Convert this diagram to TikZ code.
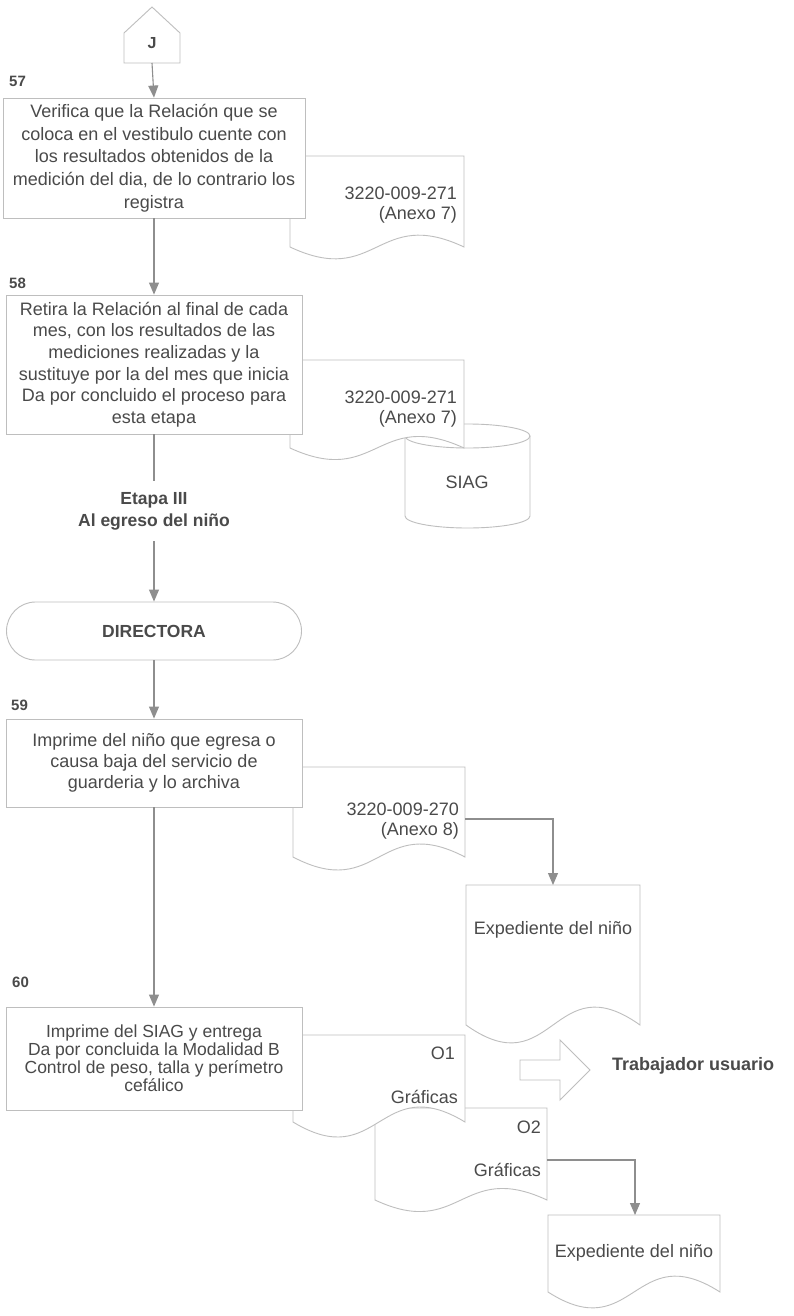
\documentclass[tikz,border=0pt]{standalone}
\usepackage{fontspec}
\setmainfont{Liberation Sans}
\usetikzlibrary{arrows.meta}

\definecolor{ink}{HTML}{4A4A4A}
\definecolor{wire}{HTML}{8E8E8E}
\definecolor{frame}{HTML}{BEBEBE}

\tikzset{
  stepbox/.style={draw=frame, line width=0.9pt, fill=white, inner sep=0pt,
    align=center, text=ink},
  stepnum/.style={font=\bfseries\fontsize{15}{18}\selectfont, text=ink,
    anchor=west, inner sep=0pt},
  flow/.style={draw=wire, line width=1.1pt, -{Triangle[width=10pt,length=12pt]}},
  plainline/.style={draw=wire, line width=1.1pt},
  doclabel/.style={anchor=east, align=right, inner sep=0pt, text=ink,
    font=\fontsize{18}{20}\selectfont},
  doctext/.style={inner sep=0pt, text=ink, font=\fontsize{18}{20}\selectfont},
  sheet/.style={draw=frame, line width=0.9pt, fill=white},
  heading/.style={font=\bfseries\fontsize{17.5}{22}\selectfont, text=ink,
    align=center, inner sep=0pt},
}

% document sheet: [wave depth] left, top, right, bottom
\newcommand{\docsheet}[5][41]{%
  \path[sheet] (#2,#5) -- (#2,#3) -- (#4,#3) -- (#4,#5)
    .. controls ({(#2+#4)/2},{#5-#1}) and ({(#2+#4)/2},{#5+#1}) .. (#2,#5) -- cycle;}

\begin{document}
\begin{tikzpicture}[x=1pt,y=-1pt]
\useasboundingbox[fill=white] (0,0) rectangle (793,1316);

% off-page connector J
\path[sheet] (124,63) -- (124,33) -- (152,7) -- (180,33) -- (180,63) -- cycle;
\node[font=\bfseries\fontsize{16}{18}\selectfont, text=ink, inner sep=0pt] (J) at (152,43) {J};
\coordinate (Jb) at (152,63);

% step 57 with its record
\docsheet{290}{156}{464}{247}
\node[doclabel] (d57) at (457,205) {3220-009-271\\(Anexo 7)};
\node[stepnum] (n57) at (9,81) {57};
\node[stepbox, minimum width=302pt, minimum height=120pt,
  font=\fontsize{18}{22.75}\selectfont] (b57) at (154,158)
  {Verifica que la Relación que se\\coloca en el vestibulo cuente con\\los resultados obtenidos de la\\medición del dia, de lo contrario los\\registra};

% step 58 with its record and the SIAG store
\path[sheet] (405,436) -- (405,516)
  arc[start angle=180, end angle=360, x radius=62.5pt, y radius=12pt]
  -- (530,436)
  arc[start angle=0, end angle=180, x radius=62.5pt, y radius=12pt] -- cycle;
\draw[draw=frame, line width=0.9pt] (405,436)
  arc[start angle=180, end angle=360, x radius=62.5pt, y radius=12pt];
\node[doctext] (siag) at (467,482) {SIAG};
\docsheet[40]{290}{360}{464}{448}
\node[doclabel] (d58) at (457,409) {3220-009-271\\(Anexo 7)};
\node[stepnum] (n58) at (9,283) {58};
\node[stepbox, minimum width=296pt, minimum height=139pt,
  font=\fontsize{18}{21.6}\selectfont] (b58) at (154,364.5)
  {Retira la Relación al final de cada\\mes, con los resultados de las\\mediciones realizadas y la\\sustituye por la del mes que inicia\\Da por concluido el proceso para\\esta etapa};

% stage heading and responsible
\node[heading, inner ysep=11pt] (etapa) at (154,511) {Etapa III\\Al egreso del niño};
\node[stepbox, rounded corners=29pt, minimum width=295pt, minimum height=58pt,
  font=\bfseries\fontsize{17.5}{20}\selectfont] (dir) at (154,631) {DIRECTORA};

% step 59 with its record and the child file
\docsheet[45]{293}{767}{465}{857}
\node[doclabel] (d59) at (459,821) {3220-009-270\\(Anexo 8)};
\node[stepnum] (n59) at (11,705) {59};
\node[stepbox, minimum width=296pt, minimum height=88pt,
  font=\fontsize{18}{21}\selectfont] (b59) at (154,763)
  {Imprime del niño que egresa o\\causa baja del servicio de\\guarderia y lo archiva};
\docsheet[62]{466}{885}{640}{1025}
\node[doctext] (e1) at (553,930) {Expediente del niño};
\coordinate (d59out) at (465,819);
\coordinate (e1top) at (553,885);

% step 60 with its outputs
\docsheet[40]{375}{1108}{547}{1200}
\node[doclabel] (o2) at (541,1127) {O2};
\node[doclabel] (g2) at (541,1170) {Gráficas};
\docsheet[52]{293}{1035}{465}{1122}
\node[doclabel] (o1) at (455,1053) {O1};
\node[doclabel] (g1) at (458,1097) {Gráficas};
\node[stepnum] (n60) at (12,982) {60};
\node[stepbox, minimum width=296pt, minimum height=103pt,
  font=\fontsize{17.5}{18}\selectfont] (b60) at (154,1058.5)
  {Imprime del SIAG y entrega\\Da por concluida la Modalidad B\\Control de peso, talla y perímetro\\cefálico};
\docsheet[55]{548}{1215}{720}{1292}
\node[doctext] (e2) at (634,1253) {Expediente del niño};
\coordinate (o2out) at (547,1160);
\coordinate (e2top) at (635,1215);

% delivery to the worker
\path[draw=frame, line width=0.9pt] (520,1060) -- (560,1060) -- (560,1040)
  -- (590,1070) -- (560,1100) -- (560,1080) -- (520,1080) -- cycle;
\node[font=\bfseries\fontsize{18}{20}\selectfont, text=ink, anchor=west,
  inner sep=0pt] (worker) at (612,1066) {Trabajador usuario};

% connectors
\draw[flow] (Jb) -- (b57.north);
\draw[flow] (b57.south) -- (b58.north);
\draw[plainline] (b58.south) -- (etapa.north);
\draw[flow] (etapa.south) -- (dir.north);
\draw[flow] (dir.south) -- (b59.north);
\draw[flow] (b59.south) -- (b60.north);
\draw[flow] (d59out) -| (e1top);
\draw[flow] (o2out) -| (e2top);
\end{tikzpicture}
\end{document}
